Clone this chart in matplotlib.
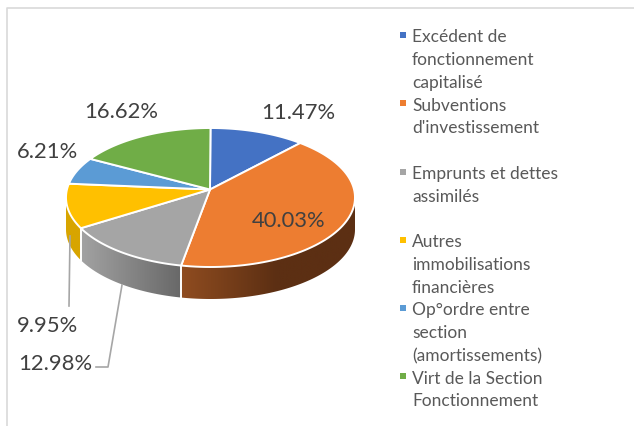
import numpy as np
import matplotlib
matplotlib.use('Agg')
import matplotlib.pyplot as plt
from matplotlib.colors import LinearSegmentedColormap
from matplotlib.patches import Polygon

plt.rcParams['font.family'] = ['Lato', 'DejaVu Sans']

# Data
categories = [
    "Excédent de\nfonctionnement\ncapitalisé",
    "Subventions\nd'investissement",
    "Emprunts et dettes\nassimilés",
    "Autres\nimmobilisations\nfinancières",
    "Op°ordre entre\nsection\n(amortissements)",
    "Virt de la Section\nFonctionnement",
]
values = [11.47, 40.03, 12.98, 9.95, 6.21, 16.62]
value_labels = ['11.47%', '40.03%', '12.98%', '9.95%', '6.21%', '16.62%']

colors = ['#4472C4', '#ED7D31', '#A5A5A5', '#FFC000', '#5B9BD5', '#70AD47']
wall_left = ['#2F4F88', '#8F4C20', '#A2A2A2', '#D8A500', '#3F6C94', '#4E7931']
wall_right = ['#2F4F88', '#5C2F13', '#686868', '#D8A500', '#3F6C94', '#4E7931']

# pixel position of each value label
label_xy = [(298, 113), (289, 221), (55, 364), (47, 326), (47, 152), (121, 112)]

# pie geometry, in pixels
cx, cy, rx, ry = 210.5, 198.5, 144.5, 69.5
apex = (210, 190.5)
depth = 32


def rim_angle(t):
    # perspective view squeezes the slices a bit round the rim
    return t - 6 * np.sin(np.radians(t))


def rim(t):
    r = np.radians(t)
    return cx + rx * np.sin(r), cy - ry * np.cos(r)


fig = plt.figure(figsize=(6.34, 4.27), dpi=100)
ax = fig.add_axes([0, 0, 1, 1])

# chart frame
ax.plot([7, 7, 634], [427, 9, 9], color='#D9D9D9', lw=1.2)

edges = np.cumsum([0] + values) / sum(values) * 360
edges = rim_angle(edges)

# side wall, only the front half shows
for i in range(len(values)):
    a = max(edges[i], 90)
    b = min(edges[i + 1], 270)
    if b <= a:
        continue
    ts = np.linspace(a, b, 80)
    xs, ys = rim(ts)
    poly = Polygon(np.c_[np.r_[xs, xs[::-1]], np.r_[ys, ys[::-1] + depth]], closed=True,
                   transform=ax.transData, facecolor='none', edgecolor='none')
    ax.add_patch(poly)
    # orange wall reaches its darkest about half way along
    stops = [(0, wall_left[i]), (0.55 if i == 1 else 1, wall_right[i]), (1, wall_right[i])]
    cmap = LinearSegmentedColormap.from_list('wall', stops)
    im = ax.imshow(np.linspace(0, 1, 200)[None, :], cmap=cmap, aspect='auto', zorder=2,
                   extent=(xs.min(), xs.max(), ys.max() + depth, ys.min()))
    im.set_clip_path(poly)
    if 90 < edges[i] < 270:
        xa, ya = rim(a)
        ax.plot([xa, xa], [ya, ya + depth], color='white', lw=1.4, zorder=3)

# top face
for i in range(len(values)):
    ts = np.linspace(edges[i], edges[i + 1], 80)
    xs, ys = rim(ts)
    ax.fill(np.r_[apex[0], xs], np.r_[apex[1], ys], facecolor=colors[i], edgecolor='white',
            lw=1.4, joinstyle='round', zorder=4)

# leader lines
ax.plot([70, 69], [237, 307], color='#A6A6A6', lw=1.2, zorder=3)
ax.plot([122, 108, 96], [286, 368, 368], color='#A6A6A6', lw=1.2, zorder=3)

# value labels
for (x, y), txt in zip(label_xy, value_labels):
    ax.text(x, y, txt, fontsize=15.8, color='#404040', ha='center', va='center', zorder=6)

# legend, every entry takes 3 rows
row = 22.75
for i, name in enumerate(categories):
    for k, line in enumerate(name.split('\n')):
        ax.text(412, 37.5 + (3 * i + k) * row, line, fontsize=12.5, color='#595959', ha='left', va='center')
    ax.scatter([403], [36 + 3 * i * row], marker='s', s=14, color=colors[i], linewidths=0)

ax.set_xlim(0, 634)
ax.set_ylim(427, 0)
ax.axis('off')

fig.savefig('out.png', dpi=100)
